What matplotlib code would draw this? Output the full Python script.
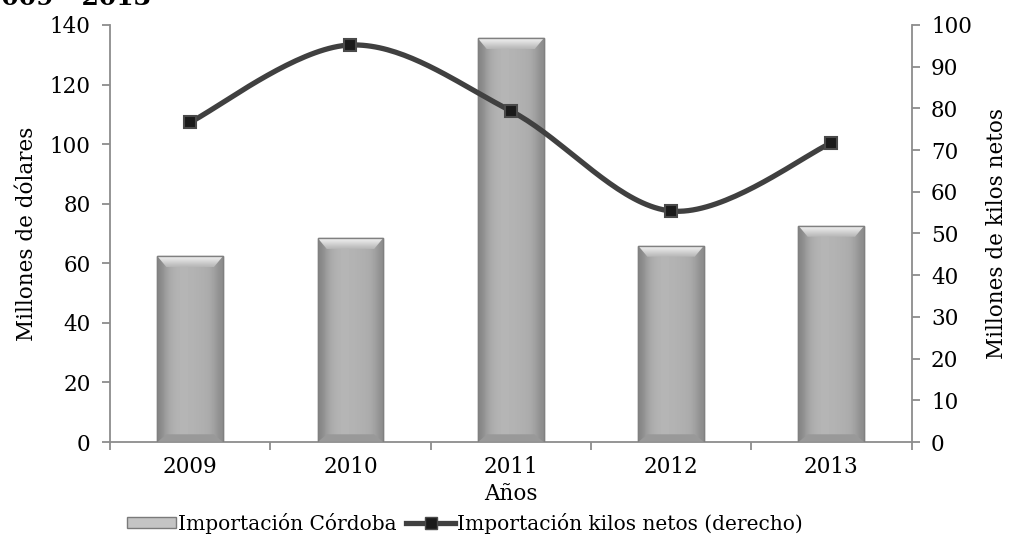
import numpy as np
import matplotlib.pyplot as plt
from matplotlib.lines import Line2D
from matplotlib.patches import Patch

plt.rcParams['font.family'] = ['DejaVu Serif']

anios = ['2009', '2010', '2011', '2012', '2013']
import_cordoba = [62.4, 68.5, 135.5, 65.9, 72.6]      # millones de dolares
kilos_netos = [76.7, 95.2, 79.4, 55.4, 71.7]          # millones de kilos (eje derecho)

fs = 15.5
x = np.arange(len(anios))

fig = plt.figure(figsize=(10.12, 5.42), dpi=100)
ax = fig.add_axes([0.1087, 0.1845, 0.792, 0.7694])
ax2 = ax.twinx()

# barras con un degradado gris
bars = ax.bar(x, import_cordoba, width=0.41, color='#b0b0b0', edgecolor='#8a8a8a',
              linewidth=1.0, zorder=2)
grad = np.array([0.52, 0.64, 0.69, 0.71, 0.71, 0.70, 0.69, 0.68, 0.65, 0.55])
grad = np.tile(grad, (2, 1))
bev_top = np.linspace(0.97, 0.72, 12)[:, None] * np.ones((1, 2))
for b in bars:
    x0, w, h = b.get_x(), b.get_width(), b.get_height()
    im = ax.imshow(grad, cmap='gray', vmin=0, vmax=1, aspect='auto',
                   extent=[x0, x0 + w, 0, h], zorder=2.5, interpolation='bicubic')
    im.set_clip_path(b)
    # bisel superior claro
    bev = 140 * 11 / 417.0
    tr = plt.Polygon([[x0, h], [x0 + w, h], [x0 + w * 0.86, h - bev], [x0 + w * 0.14, h - bev]],
                     closed=True, fill=False, lw=0)
    ax.add_patch(tr)
    im2 = ax.imshow(bev_top, cmap='gray', vmin=0, vmax=1, aspect='auto',
                    extent=[x0, x0 + w, h - bev, h], zorder=2.6, interpolation='bilinear')
    im2.set_clip_path(tr)
    ax.fill([x0, x0 + w, x0 + w * 0.86, x0 + w * 0.14],
            [0, 0, bev * 0.7, bev * 0.7], color='#999999', zorder=2.6, lw=0)
    ax.add_patch(plt.Rectangle((x0, 0), w, h, fill=False,
                               edgecolor='#808080', lw=1.0, zorder=2.7))

ax.set_xlim(-0.5, len(anios) - 0.5)
ax.set_ylim(0, 140)
ax.set_yticks(np.arange(0, 141, 20))
ax2.set_ylim(0, 100)
ax2.set_yticks(np.arange(0, 101, 10))

# linea suavizada (Catmull-Rom, como el suavizado de Excel)
pts = np.column_stack([x, kilos_netos]).astype(float)
ext = np.vstack([pts[0], pts, pts[-1]])
cx, cy = [], []
t = np.linspace(0, 1, 40)
for i in range(1, len(ext) - 2):
    p0, p1, p2, p3 = ext[i - 1], ext[i], ext[i + 1], ext[i + 2]
    c1 = p1 + (p2 - p0) / 6.0
    c2 = p2 - (p3 - p1) / 6.0
    seg = ((1 - t) ** 3)[:, None] * p1 + (3 * (1 - t) ** 2 * t)[:, None] * c1 + \
          (3 * (1 - t) * t ** 2)[:, None] * c2 + (t ** 3)[:, None] * p2
    cx.extend(seg[:, 0]); cy.extend(seg[:, 1])
ax2.plot(cx, cy, color='#404040', lw=3.8, solid_capstyle='round', zorder=3)
ax2.plot(x, kilos_netos, ls='none', marker='s', ms=9, mfc='#1a1a1a', mec='#4a4a4a',
         mew=1.5, zorder=4)

ax.set_zorder(ax2.get_zorder() - 1)
ax.patch.set_visible(True)
ax2.patch.set_visible(False)

for a in (ax, ax2):
    for s in a.spines.values():
        s.set_visible(False)
ax.spines['left'].set_visible(True)
ax.spines['bottom'].set_visible(True)
ax2.spines['right'].set_visible(True)
for s in (ax.spines['left'], ax.spines['bottom'], ax2.spines['right']):
    s.set_color('#8c8c8c'); s.set_linewidth(1.3)

ax.set_xticks(x)
ax.set_xticklabels(anios, fontsize=fs)
ax.set_xticks(np.arange(-0.5, len(anios)), minor=True)
ax.tick_params(axis='x', which='major', length=0, pad=10)
ax.tick_params(axis='x', which='minor', length=6, color='#8c8c8c', width=1.3)
ax.tick_params(axis='y', labelsize=fs, length=6, color='#8c8c8c', width=1.3, pad=8)
ax2.tick_params(axis='y', labelsize=fs, length=6, color='#8c8c8c', width=1.3, pad=8)

ax.set_xlabel('Años', fontsize=fs, labelpad=4)
ax.set_ylabel('Millones de dólares', fontsize=fs, labelpad=8)
ax2.set_ylabel('Millones de kilos netos', fontsize=fs, labelpad=10)

handles = [Patch(facecolor='#c4c4c4', edgecolor='#7a7a7a'),
           Line2D([0], [0], color='#404040', lw=3.8, marker='s', ms=9,
                  mfc='#1a1a1a', mec='#4a4a4a')]
fig.legend(handles, ['Importación Córdoba', 'Importación kilos netos (derecho)'],
           loc='lower left', bbox_to_anchor=(0.108, -0.018), ncol=2, frameon=False,
           fontsize=14.5, handlelength=2.4, handletextpad=0.1, columnspacing=0.5,
           handleheight=0.4)

fig.text(-0.016, 0.991, '2009 - 2013', fontsize=18, fontweight='bold', va='baseline')

fig.savefig('out.png', dpi=100)
